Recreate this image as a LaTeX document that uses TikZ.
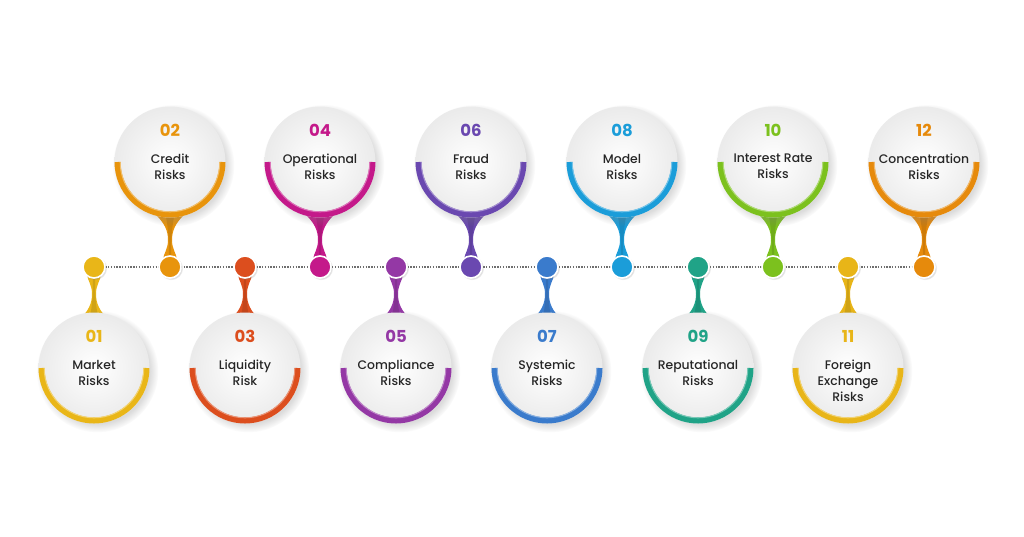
\documentclass[tikz,border=0pt]{standalone}
\usepackage{fontspec}
\setmainfont{Poppins}
\newfontfamily\popmed{Poppins Medium}
\usetikzlibrary{shadows}
\definecolor{cA}{HTML}{E9B618}
\definecolor{cB}{HTML}{E8940C}
\definecolor{cC}{HTML}{DC4E1E}
\definecolor{cD}{HTML}{C4198A}
\definecolor{cE}{HTML}{9438A5}
\definecolor{cF}{HTML}{6A48B0}
\definecolor{cG}{HTML}{3A7BCC}
\definecolor{cH}{HTML}{1B9DD9}
\definecolor{cI}{HTML}{20A387}
\definecolor{cJ}{HTML}{7CC11E}
\definecolor{cK}{HTML}{E8B518}
\definecolor{cL}{HTML}{E68A0C}
\definecolor{txt}{HTML}{262626}
\definecolor{lineg}{HTML}{6E6E6E}
\begin{document}
\begin{tikzpicture}[x=1pt,y=-1pt,
  bubble/.style={circle, minimum size=111pt, inner sep=0pt,
    inner color=white, outer color=black!8,
    circular drop shadow={shadow xshift=3pt, shadow yshift=-3pt, opacity=.28}},
  dotnode/.style={circle, minimum size=22pt, inner sep=0pt, fill=#1,
    draw=white, line width=1.6pt,
    circular drop shadow={shadow xshift=1pt, shadow yshift=-1pt, opacity=.25}},
  numstyle/.style={font=\bfseries\fontsize{16.5}{18}\selectfont, inner sep=0pt},
  labstyle/.style={font=\popmed\fontsize{12.4}{16}\selectfont, text=txt, align=center,
    inner sep=0pt, execute at begin node=\vphantom{d}},
  band/.style={line width=6pt, draw=#1},
  timeline/.style={draw=lineg, line width=1.3pt, dash pattern=on 1.4pt off 1.4pt}
]
\useasboundingbox (0,0) rectangle (1024,536);
\fill[white] (0,0) rectangle (1024,536);

% positions of dots on the timeline
\foreach \i/\x in {1/94,2/170,3/245,4/320,5/396,6/471,7/547,8/622,9/698,10/773,11/848,12/924}
  \coordinate (k\i) at (\x,267);

\draw[timeline] (k1) -- (k12);

\foreach \i/\x/\cy/\s/\col/\lab in {
  1/94/368/-1/cA/{Market\\Risks},
  2/170/162/1/cB/{Credit\\Risks},
  3/245/368/-1/cC/{Liquidity\\Risk},
  4/320/162/1/cD/{Operational\\Risks},
  5/396/368/-1/cE/{Compliance\\Risks},
  6/471/162/1/cF/{Fraud\\Risks},
  7/547/368/-1/cG/{Systemic\\Risks},
  8/622/162/1/cH/{Model\\Risks},
  9/698/368/-1/cI/{Reputational\\Risks},
  10/773/162/1/cJ/{Interest Rate\\Risks},
  11/848/368/-1/cK/{Foreign\\Exchange\\Risks},
  12/924/162/1/cL/{Concentration\\Risks}}{
  % stem
  \begin{scope}[shift={(k\i)}, yscale=\s]
    \fill[\col] (-7,-8) .. controls (-6,-14) and (-2,-18) .. (-2,-27)
      .. controls (-2,-36) and (-5,-44) .. (-16,-54) -- (16,-54)
      .. controls (5,-44) and (2,-36) .. (2,-27)
      .. controls (2,-18) and (6,-14) .. (7,-8) -- cycle;
    \fill[\col!70!black, opacity=.35] (-1,-12) .. controls (-1,-20) and (-1,-34) .. (-4,-50)
      -- (4,-50) .. controls (1,-34) and (1,-20) .. (1,-12) -- cycle;
  \end{scope}
  % circle
  \node[bubble] (c\i) at (\x,\cy) {};
  \begin{scope}[shift={(c\i.center)}]
    \draw[band=\col] (52.5,0) arc[start angle=0, end angle=180, radius=52.5];
    \draw[\col!60!white, line width=1pt] (49.8,0) arc[start angle=0, end angle=180, radius=49.8];
  \end{scope}
  % dot
  \node[dotnode=\col] (d\i) at (k\i) {};
  % texts
  \node[numstyle, text=\col] (n\i) at (\x,\cy-32) {\ifnum\i<10 0\i\else\i\fi};
  \node[labstyle, anchor=north] (l\i) at (\x,\cy-8) {\lab};
}
\end{tikzpicture}
\end{document}
